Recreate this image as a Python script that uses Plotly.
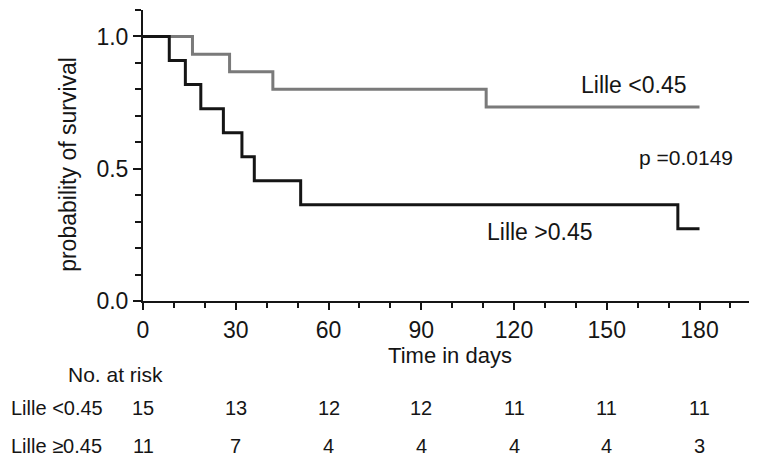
import plotly.graph_objects as go

# Kaplan-Meier step data
low_time = [0, 16, 28, 42, 111, 180]
low_surv = [1.0, 0.933, 0.867, 0.800, 0.733, 0.733]
high_time = [0, 8.5, 13.7, 18.7, 26, 32, 36, 51, 173, 180]
high_surv = [1.0, 0.909, 0.818, 0.727, 0.636, 0.545, 0.455, 0.364, 0.273, 0.273]

# Number at risk table
risk_times = [0, 30, 60, 90, 120, 150, 180]
risk_low = [15, 13, 12, 12, 11, 11, 11]
risk_high = [11, 7, 4, 4, 4, 4, 3]
row_labels = ["Lille <0.45", "Lille \u22650.45"]

FONT = "Liberation Sans, Arial, Helvetica, sans-serif"
INK = "#151515"

fig = go.Figure()
fig.add_trace(go.Scatter(x=low_time, y=low_surv, mode="lines", line_shape="hv",
                         line=dict(color="#7a7a7a", width=3), name="Lille <0.45"))
fig.add_trace(go.Scatter(x=high_time, y=high_surv, mode="lines", line_shape="hv",
                         line=dict(color=INK, width=3), name="Lille >0.45"))

def txt(size):
    return dict(size=size, color=INK, family=FONT)

ann = []
# curve labels
ann.append(dict(x=158.8, y=0.817, xref="x", yref="y", text="Lille <0.45", showarrow=False,
                xanchor="center", yanchor="middle", font=txt(23)))
ann.append(dict(x=175.6, y=0.541, xref="x", yref="y", text="p =0.0149", showarrow=False,
                xanchor="center", yanchor="middle", font=txt(21)))
ann.append(dict(x=128.5, y=0.261, xref="x", yref="y", text="Lille >0.45", showarrow=False,
                xanchor="center", yanchor="middle", font=txt(23)))
# y axis title
ann.append(dict(x=-0.1216, y=0.516, xref="paper", yref="y", text="probability of survival",
                textangle=-90, showarrow=False, xanchor="center", yanchor="middle", font=txt(23)))
# risk table
ann.append(dict(x=-0.045, y=-0.254, xref="paper", yref="paper", text="No. at risk",
                showarrow=False, xanchor="center", yanchor="middle", font=txt(21)))
for yy, lab, vals in [(-0.368, row_labels[0], risk_low), (-0.498, row_labels[1], risk_high)]:
    ann.append(dict(x=-0.218, y=yy, xref="paper", yref="paper", text=lab, xanchor="left",
                    yanchor="middle", showarrow=False, font=txt(20)))
    for t, v in zip(risk_times, vals):
        ann.append(dict(x=t, y=yy, xref="x", yref="paper", text=str(v), showarrow=False,
                        xanchor="center", yanchor="middle", font=txt(20)))

fig.update_layout(
    width=749, height=451,
    margin=dict(l=135, r=0, t=2, b=158),
    paper_bgcolor="white", plot_bgcolor="white",
    showlegend=False,
    font=dict(family=FONT, color=INK),
    annotations=ann,
    xaxis=dict(range=[0, 198.6], tickmode="linear", tick0=0, dtick=30,
               showgrid=False, zeroline=False, showline=True, linecolor=INK, linewidth=2,
               ticks="outside", ticklen=7, tickwidth=2, tickcolor=INK,
               tickfont=txt(23),
               minor=dict(dtick=10, tick0=0, ticks="outside", ticklen=5, tickwidth=2,
                          tickcolor=INK, showgrid=False),
               title=dict(text="Time in days", font=txt(22), standoff=4)),
    yaxis=dict(range=[0, 1.1], tickmode="linear", tick0=0, dtick=0.5, tickformat=".1f",
               showgrid=False, zeroline=False, showline=True, linecolor=INK, linewidth=2,
               ticks="outside", ticklen=8, tickwidth=2, tickcolor=INK,
               tickfont=txt(23),
               minor=dict(dtick=0.1, tick0=0, ticks="outside", ticklen=6, tickwidth=2,
                          tickcolor=INK, showgrid=False)),
)

fig.write_html("out.html")
